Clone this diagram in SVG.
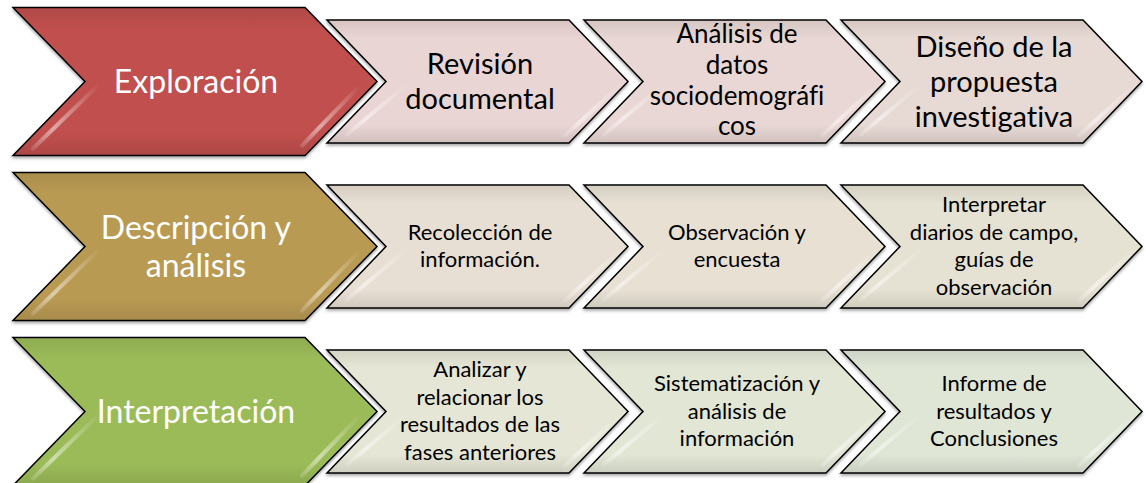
<svg xmlns="http://www.w3.org/2000/svg" width="1146" height="483" viewBox="0 0 1146 483">
<defs>
<path id="big" d="M13,-74 H305 L377,0 L305,74 H13 L85,0 Z"/>
<path id="small" d="M0,-61.5 H242 L301,0 L242,61.5 H0 L59,0 Z"/>
<filter id="sh" x="-5%" y="-10%" width="110%" height="125%">
<feDropShadow dx="0" dy="2" stdDeviation="1.8" flood-color="#000" flood-opacity="0.35"/>
</filter>
<linearGradient id="hlL" x1="1" y1="0" x2="0" y2="1">
<stop offset="0" stop-color="#fff" stop-opacity="0"/>
<stop offset="0.7" stop-color="#fff" stop-opacity="0.5"/>
<stop offset="1" stop-color="#fff" stop-opacity="0.15"/>
</linearGradient>
<linearGradient id="shade" x1="0" y1="0" x2="0" y2="1">
<stop offset="0" stop-color="#000" stop-opacity="0.08"/>
<stop offset="0.15" stop-color="#000" stop-opacity="0"/>
<stop offset="0.85" stop-color="#000" stop-opacity="0"/>
<stop offset="1" stop-color="#000" stop-opacity="0.1"/>
</linearGradient>
</defs>
<style>
.halo{fill:none;stroke:#fff;stroke-width:5;stroke-linejoin:miter}
.edge{stroke:#000;stroke-width:1.5;stroke-linejoin:miter}
.sh{fill:url(#shade)}
.hl{fill:none;stroke:url(#hlL);stroke-width:4;stroke-linecap:round}
.t{font-family:Lato,"Liberation Sans",sans-serif;text-anchor:middle;font-variant-ligatures:none}
.w{fill:#fff}
.k{fill:#000}
.f32{font-size:32px}
.f29{font-size:29px}
.f26{font-size:26px}
.f22{font-size:22px}
</style>

<g id="connectors"></g>

<!-- Row 1 -->
<g id="exploracion" transform="translate(0,81.5)">
<use href="#big" class="halo"/>
<use href="#big" class="edge" fill="#C0504D" filter="url(#sh)"/>
<use href="#big" class="sh"/>
<path class="hl" d="M100,2 L33,67"/>
<path class="hl" d="M360,4 L302,64"/>
<text class="t w f32" x="196" y="11">Exploración</text>
</g>
<g id="revision" transform="translate(327,81.5)">
<use href="#small" class="halo"/>
<use href="#small" class="edge" fill="#E9D5D4" filter="url(#sh)"/>
<use href="#small" class="sh"/>
<path class="hl" d="M81,2 L20,53"/>
<path class="hl" d="M295,2 L238,54"/>
<text class="t k f29"><tspan x="153" y="-8">Revisión</tspan><tspan x="153" y="27">documental</tspan></text>
</g>
<g id="analisis-datos" transform="translate(584,81.5)">
<use href="#small" class="halo"/>
<use href="#small" class="edge" fill="#E8D7D4" filter="url(#sh)"/>
<use href="#small" class="sh"/>
<path class="hl" d="M81,2 L20,53"/>
<path class="hl" d="M295,2 L238,54"/>
<text class="t k f26"><tspan x="153" y="-38.5">Análisis de</tspan><tspan x="153" y="-7.5">datos</tspan><tspan x="153" y="23">sociodemográfi</tspan><tspan x="153" y="53.5">cos</tspan></text>
</g>
<g id="diseno" transform="translate(841,81.5)">
<use href="#small" class="halo"/>
<use href="#small" class="edge" fill="#E7D9D4" filter="url(#sh)"/>
<use href="#small" class="sh"/>
<path class="hl" d="M81,2 L20,53"/>
<path class="hl" d="M295,2 L238,54"/>
<text class="t k f29"><tspan x="153" y="-24.5">Diseño de la</tspan><tspan x="153" y="10.5">propuesta</tspan><tspan x="153" y="45.5">investigativa</tspan></text>
</g>

<!-- Row 2 -->
<g id="descripcion" transform="translate(0,246.5)">
<use href="#big" class="halo"/>
<use href="#big" class="edge" fill="#B99A53" filter="url(#sh)"/>
<use href="#big" class="sh"/>
<path class="hl" d="M100,2 L33,67"/>
<path class="hl" d="M360,4 L302,64"/>
<text class="t w f32"><tspan x="196" y="-7.5">Descripción y</tspan><tspan x="196" y="30.5">análisis</tspan></text>
</g>
<g id="recoleccion" transform="translate(327,246.5)">
<use href="#small" class="halo"/>
<use href="#small" class="edge" fill="#E8DFD4" filter="url(#sh)"/>
<use href="#small" class="sh"/>
<path class="hl" d="M81,2 L20,53"/>
<path class="hl" d="M295,2 L238,54"/>
<text class="t k f22"><tspan x="153" y="-6.5">Recolección de</tspan><tspan x="153" y="20.5">información.</tspan></text>
</g>
<g id="observacion" transform="translate(584,246.5)">
<use href="#small" class="halo"/>
<use href="#small" class="edge" fill="#E7E0D3" filter="url(#sh)"/>
<use href="#small" class="sh"/>
<path class="hl" d="M81,2 L20,53"/>
<path class="hl" d="M295,2 L238,54"/>
<text class="t k f22"><tspan x="153" y="-6.5">Observación y</tspan><tspan x="153" y="20.5">encuesta</tspan></text>
</g>
<g id="interpretar" transform="translate(841,246.5)">
<use href="#small" class="halo"/>
<use href="#small" class="edge" fill="#E6E2D3" filter="url(#sh)"/>
<use href="#small" class="sh"/>
<path class="hl" d="M81,2 L20,53"/>
<path class="hl" d="M295,2 L238,54"/>
<text class="t k f22"><tspan x="153" y="-34.5">Interpretar</tspan><tspan x="153" y="-7">diarios de campo,</tspan><tspan x="153" y="20.5">guías de</tspan><tspan x="153" y="48">observación</tspan></text>
</g>

<!-- Row 3 -->
<g id="interpretacion" transform="translate(0,411.5)">
<use href="#big" class="halo"/>
<use href="#big" class="edge" fill="#9BBB59" filter="url(#sh)"/>
<use href="#big" class="sh"/>
<path class="hl" d="M100,2 L33,67"/>
<path class="hl" d="M360,4 L302,64"/>
<text class="t w f32" x="196" y="11">Interpretación</text>
</g>
<g id="analizar" transform="translate(327,411.5)">
<use href="#small" class="halo"/>
<use href="#small" class="edge" fill="#E5E6D5" filter="url(#sh)"/>
<use href="#small" class="sh"/>
<path class="hl" d="M81,2 L20,53"/>
<path class="hl" d="M295,2 L238,54"/>
<text class="t k f22"><tspan x="153" y="-34.5">Analizar y</tspan><tspan x="153" y="-7">relacionar los</tspan><tspan x="153" y="20.5">resultados de las</tspan><tspan x="153" y="48">fases anteriores</tspan></text>
</g>
<g id="sistematizacion" transform="translate(584,411.5)">
<use href="#small" class="halo"/>
<use href="#small" class="edge" fill="#E2E6D5" filter="url(#sh)"/>
<use href="#small" class="sh"/>
<path class="hl" d="M81,2 L20,53"/>
<path class="hl" d="M295,2 L238,54"/>
<text class="t k f22"><tspan x="153" y="-20.5">Sistematización y</tspan><tspan x="153" y="7">análisis de</tspan><tspan x="153" y="34.5">información</tspan></text>
</g>
<g id="informe" transform="translate(841,411.5)">
<use href="#small" class="halo"/>
<use href="#small" class="edge" fill="#DFE6D6" filter="url(#sh)"/>
<use href="#small" class="sh"/>
<path class="hl" d="M81,2 L20,53"/>
<path class="hl" d="M295,2 L238,54"/>
<text class="t k f22"><tspan x="153" y="-20.5">Informe de</tspan><tspan x="153" y="7">resultados y</tspan><tspan x="153" y="34.5">Conclusiones</tspan></text>
</g>
</svg>
